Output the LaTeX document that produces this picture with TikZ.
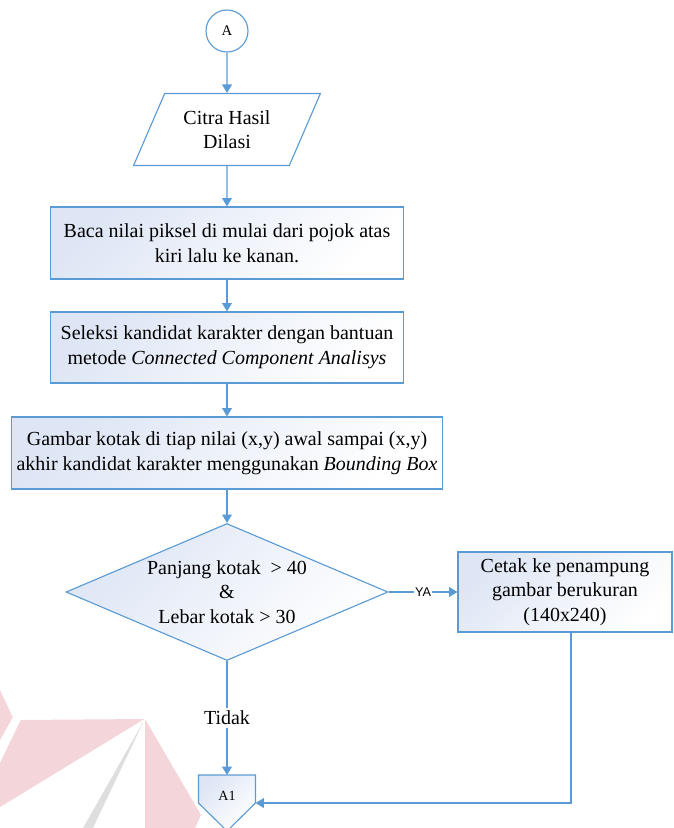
\documentclass[tikz,border=0pt]{standalone}
\usepackage{fontspec}
\setmainfont{Liberation Serif}
\newfontfamily\yafont{Liberation Sans}
\usetikzlibrary{arrows.meta,positioning,calc,shapes.geometric}
\definecolor{garisbiru}{RGB}{91,155,213}
\definecolor{isibiru}{RGB}{222,230,245}
\definecolor{wmpink}{RGB}{243,213,218}
\definecolor{wmgray}{RGB}{222,222,222}

\begin{document}
\begin{tikzpicture}[
    >={Triangle[width=7pt,length=6pt]},
    font=\fontsize{14.2}{17.5}\selectfont,
    garis/.style={draw=garisbiru, line width=0.8pt},
    isi/.style={top color=isibiru, bottom color=white, shading angle=45},
    proses/.style={garis, isi, rectangle, minimum height=1.8cm, align=center, inner sep=0pt},
    data/.style={garis, trapezium, trapezium left angle=63.4, trapezium right angle=116.6,
        trapezium stretches=true, fill=white, minimum width=4.675cm, minimum height=1.8cm, align=center},
    keputusan/.style={garis, isi, diamond, aspect=2.35, minimum width=8.05cm, minimum height=3.425cm,
        inner sep=0pt, align=center},
    konektor/.style={garis, circle, fill=white, minimum size=1.05cm, inner sep=0pt,
        font=\fontsize{10.5}{12}\selectfont},
    arr/.style={->, garis},
    ket/.style={fill=white, inner sep=2pt}
]
    \useasboundingbox (0,0) rectangle (16.825,-20.7);
    % watermark
    \fill[wmpink] (0,-17.25) -- (0.3175,-17.93) -- (0,-18.5) -- cycle;
    \fill[wmpink] (0.5175,-18) -- (3.6075,-17.975) -- (0,-20.175) -- (0,-19.075) -- cycle;
    \fill[wmpink] (3.625,-17.975) -- (5.025,-20.375) -- (4.875,-20.7) -- (3.625,-20.7) -- cycle;
    \fill[wmgray] (3.6075,-18) -- (2.075,-20.7) -- (2.325,-20.7) -- cycle;

    \node[konektor] (a) at (5.675,-0.775) {A};
    \node[data] (citra) at (5.675,-3.2375) {Citra Hasil\\Dilasi};
    \node[proses, minimum width=8.825cm] (baca) at (5.675,-6.075)
        {Baca nilai piksel di mulai dari pojok atas\\kiri lalu ke kanan.};
    \node[proses, minimum width=8.825cm, minimum height=1.775cm] (seleksi) at (5.675,-8.6875)
        {Seleksi kandidat karakter dengan bantuan\\metode \textit{Connected Component Analisys}};
    \node[proses, minimum width=10.775cm] (gambar) at (5.675,-11.325)
        {Gambar kotak di tiap nilai (x,y) awal sampai (x,y)\\akhir kandidat karakter menggunakan \textit{Bounding Box}};
    \node[keputusan] (cek) at (5.675,-14.8) {Panjang kotak\ \ > 40\\\&\\Lebar kotak > 30};
    \node[proses, minimum width=5.35cm, minimum height=2cm] (cetak) at (14.125,-14.8)
        {Cetak ke penampung\\gambar berukuran\\(140x240)};

    % konektor halaman A1
    \coordinate (a1) at (5.675,-19.375);
    \draw[garis, isi] ($(a1)+(-0.7125,0)$) -- ($(a1)+(0.7125,0)$) -- ($(a1)+(0.7125,-0.7)$) coordinate (a1kanan)
        -- ($(a1)+(0,-1.4)$) -- ($(a1)+(-0.7125,-0.7)$) -- cycle;
    \node[font=\fontsize{10}{12}\selectfont] (a1teks) at ($(a1)+(0,-0.525)$) {A1};

    \draw[arr] (a) -- (citra);
    \draw[arr] (citra) -- (baca);
    \draw[arr] (baca) -- (seleksi);
    \draw[arr] (seleksi) -- (gambar);
    \draw[arr] (gambar) -- (cek);
    \draw[arr] (cek) -- node[ket, inner sep=1pt, font=\yafont\fontsize{9}{10}\selectfont] {YA} (cetak);
    \draw[arr] (cek) -- node[ket] {Tidak} (a1);
    \draw[arr] ($(cetak.south)+(0.15,0)$) |- (a1kanan);
\end{tikzpicture}
\end{document}
